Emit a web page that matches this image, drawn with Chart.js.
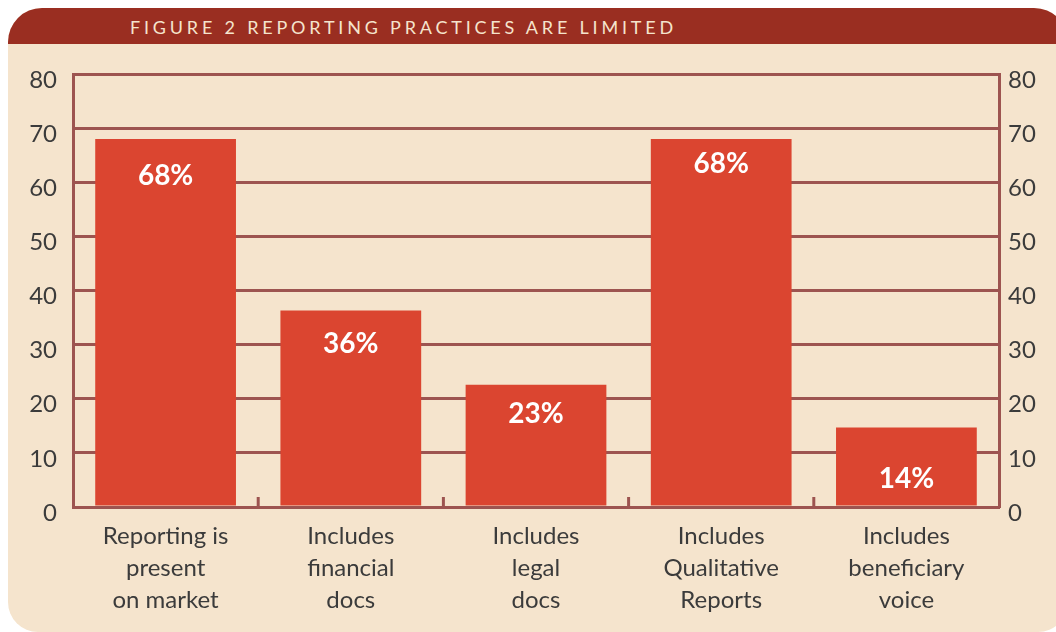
<!DOCTYPE html>
<html>
<head>
<meta charset="utf-8">
<script src="https://cdn.jsdelivr.net/npm/chart.js@4"></script>
<style>
  html, body { margin: 0; padding: 0; background: #ffffff; }
  #wrap { position: relative; width: 1056px; height: 632px; overflow: hidden; }
  #panel {
    position: absolute; left: 8px; top: 8px; width: 1060px; height: 624px;
    background: #f5e4cd; border-radius: 34px 34px 30px 30px;
  }
  #titlebar {
    position: absolute; left: 8px; top: 8px; width: 1060px; height: 36px;
    background: #9a2e21; border-radius: 34px 34px 0 0;
  }
  #title {
    position: absolute; left: 130px; top: 16px; margin: 0;
    font: 18px Lato, sans-serif; letter-spacing: 3.8px; color: #f5e4cd;
    white-space: nowrap;
  }
  #chart { position: absolute; left: 0; top: 0; }
</style>
</head>
<body>
<div id="wrap">
  <div id="panel"></div>
  <div id="titlebar"></div>
  <p id="title">FIGURE 2 REPORTING PRACTICES ARE LIMITED</p>
  <canvas id="chart" width="1056" height="632"></canvas>
</div>
<script>
const categories = [
  ["Reporting is", "present", "on market"],
  ["Includes", "financial", "docs"],
  ["Includes", "legal", "docs"],
  ["Includes", "Qualitative", "Reports"],
  ["Includes", "beneficiary", "voice"],
];
const values = [68, 36.3, 22.6, 68, 14.7];
const valueLabels = ["68%", "36%", "23%", "68%", "14%"];
const yTicks = [0, 10, 20, 30, 40, 50, 60, 70, 80];

const gridColor = "#9d5450";
const textColor = "#3b3b3b";

// white % labels inside the bars, plus the short upward ticks between categories
const barLabels = {
  id: "barLabels",
  afterDatasetsDraw(chart, args, opts) {
    const ctx = chart.ctx;
    const meta = chart.getDatasetMeta(0);
    ctx.save();
    ctx.fillStyle = "#ffffff";
    ctx.font = "bold 28px Lato, sans-serif";
    ctx.textAlign = "center";
    ctx.textBaseline = "middle";
    meta.data.forEach((bar, i) => {
      ctx.fillText(valueLabels[i], bar.x, bar.y + opts.offsets[i]);
    });
    // category separators on the x axis
    const x = chart.scales.x;
    const bottom = chart.chartArea.bottom;
    ctx.strokeStyle = gridColor;
    ctx.lineWidth = 3;
    for (let i = 0; i < categories.length - 1; i++) {
      const px = (x.getPixelForValue(i) + x.getPixelForValue(i + 1)) / 2;
      ctx.beginPath();
      ctx.moveTo(px, bottom);
      ctx.lineTo(px, bottom - 10);
      ctx.stroke();
    }
    ctx.restore();
  },
};

const tickFont = { family: "Lato, sans-serif", size: 24 };

new Chart(document.getElementById("chart"), {
  type: "bar",
  data: {
    labels: categories,
    datasets: [{
      data: values,
      backgroundColor: "#db4530",
      categoryPercentage: 0.76,
      barPercentage: 1,
    }],
  },
  options: {
    responsive: false,
    animation: false,
    layout: { padding: { top: 74, left: 0, right: 0, bottom: 0 } },
    plugins: {
      legend: { display: false },
      tooltip: { enabled: false },
      barLabels: { offsets: [37, 33, 29, 25, 52] },
    },
    scales: {
      x: {
        grid: { display: false, drawTicks: false },
        border: { display: true, color: gridColor, width: 3 },
        ticks: {
          color: textColor,
          font: { family: "Lato, sans-serif", size: 24, lineHeight: 1.33 },
          padding: 13, maxRotation: 0,
        },
        afterFit(s) { s.height = 125; },
      },
      y: {
        position: "left",
        min: 0, max: 80,
        afterBuildTicks(s) { s.ticks = yTicks.map(v => ({ value: v })); },
        grid: { color: gridColor, lineWidth: 3, drawTicks: false },
        border: { display: true, color: gridColor, width: 3 },
        ticks: { color: textColor, font: tickFont, padding: 16, labelOffset: 6 },
        afterFit(s) { s.width = 73; },
      },
      y2: {
        position: "right",
        min: 0, max: 80,
        afterBuildTicks(s) { s.ticks = yTicks.map(v => ({ value: v })); },
        grid: { display: false, drawTicks: false },
        border: { display: true, color: gridColor, width: 3 },
        ticks: { color: textColor, font: tickFont, padding: 9, labelOffset: 6 },
        afterFit(s) { s.width = 57; },
      },
    },
  },
  plugins: [barLabels],
});
</script>
</body>
</html>
